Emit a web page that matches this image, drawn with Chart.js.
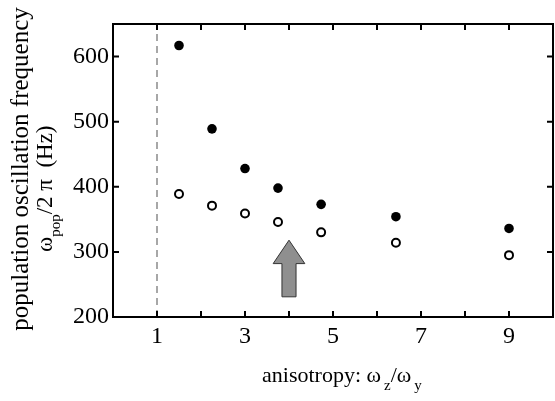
<!DOCTYPE html>
<html>
<head>
<meta charset="utf-8">
<script src="https://cdn.jsdelivr.net/npm/chart.js@4.4.1/dist/chart.umd.min.js"></script>
<style>
  body { margin: 0; background: #fff; }
  #c { display: block; }
</style>
</head>
<body>
<canvas id="c" width="555" height="401"></canvas>
<script>
// anisotropy values (x) and frequencies (Hz)
const anisotropy = [1.5, 2.25, 3, 3.75, 4.73, 6.43, 9];
const freqFilled = [617, 489, 428, 398, 373, 354, 336];
const freqOpen   = [389, 371, 359, 346, 330, 314, 295];
const xTicks = [1, 3, 5, 7, 9];
const yTicks = [200, 300, 400, 500, 600];
const arrow = { x: 4, tip: 318, headBase: 282, base: 231 };

const serif = '"Liberation Serif", "DejaVu Serif", serif';

const pts = ys => anisotropy.map((x, i) => ({ x: x, y: ys[i] }));

// draw text with subscripts, left to right from (x, y) baseline
function richText(ctx, parts, x, y, size) {
  parts.forEach(p => {
    ctx.font = (p.sub ? 15 : size) + 'px ' + serif;
    const dy = p.sub ? 8 : 0;
    ctx.fillText(p.t, x + (p.dx || 0), y + dy);
    x += (p.dx || 0) + ctx.measureText(p.t).width;
  });
}

const decor = {
  id: 'decor',
  afterDraw(chart) {
    const ctx = chart.ctx;
    const a = chart.chartArea;
    const xs = chart.scales.x, ys = chart.scales.y;
    ctx.save();
    ctx.strokeStyle = '#000';
    ctx.lineWidth = 2;
    ctx.strokeRect(a.left, a.top, a.right - a.left, a.bottom - a.top);

    // inward ticks on all four sides
    ctx.beginPath();
    xs.ticks.forEach(t => {
      const px = xs.getPixelForValue(t.value);
      ctx.moveTo(px, a.bottom); ctx.lineTo(px, a.bottom - 6);
      ctx.moveTo(px, a.top); ctx.lineTo(px, a.top + 6);
    });
    ys.ticks.forEach(t => {
      const py = ys.getPixelForValue(t.value);
      ctx.moveTo(a.left, py); ctx.lineTo(a.left + 6, py);
      ctx.moveTo(a.right, py); ctx.lineTo(a.right - 6, py);
    });
    ctx.stroke();

    // grey arrow
    const cx = xs.getPixelForValue(arrow.x);
    const hw = xs.getPixelForValue(arrow.x + 0.36) - cx;
    const sw = xs.getPixelForValue(arrow.x + 0.16) - cx;
    const yTip = ys.getPixelForValue(arrow.tip);
    const yHead = ys.getPixelForValue(arrow.headBase);
    const yBase = ys.getPixelForValue(arrow.base);
    ctx.beginPath();
    ctx.moveTo(cx, yTip);
    ctx.lineTo(cx + hw, yHead);
    ctx.lineTo(cx + sw, yHead);
    ctx.lineTo(cx + sw, yBase);
    ctx.lineTo(cx - sw, yBase);
    ctx.lineTo(cx - sw, yHead);
    ctx.lineTo(cx - hw, yHead);
    ctx.closePath();
    ctx.fillStyle = '#8f8f8f';
    ctx.fill();
    ctx.lineWidth = 1;
    ctx.strokeStyle = '#333';
    ctx.stroke();

    // axis titles
    ctx.fillStyle = '#000';
    ctx.textBaseline = 'alphabetic';
    ctx.textAlign = 'left';
    richText(ctx, [
      { t: 'anisotropy: ω' },
      { t: 'z', sub: true, dx: 3 },
      { t: '/ω' },
      { t: 'y', sub: true, dx: 3 }
    ], 262, 382, 22);

    ctx.rotate(-Math.PI / 2);
    ctx.textAlign = 'center';
    ctx.font = '25px ' + serif;
    ctx.fillText('population oscillation frequency', -169, 28);
    ctx.textAlign = 'left';
    richText(ctx, [
      { t: 'ω' },
      { t: 'pop', sub: true },
      { t: '/2 π  (Hz)' }
    ], -252, 52, 23);
    ctx.restore();
  }
};

new Chart(document.getElementById('c'), {
  type: 'scatter',
  data: {
    datasets: [
      {
        data: [{ x: 1, y: 200 }, { x: 1, y: 650 }],
        showLine: true,
        borderColor: '#8a8a8a',
        borderWidth: 1.5,
        borderDash: [7, 5],
        pointRadius: 0
      },
      {
        data: pts(freqFilled),
        backgroundColor: '#000',
        borderColor: '#000',
        pointRadius: 4.8,
        borderWidth: 0
      },
      {
        data: pts(freqOpen),
        backgroundColor: '#fff',
        borderColor: '#000',
        pointRadius: 4,
        borderWidth: 2
      }
    ]
  },
  options: {
    responsive: false,
    animation: false,
    layout: { autoPadding: false, padding: { top: 24, right: 2, left: 0, bottom: 0 } },
    plugins: { legend: { display: false }, tooltip: { enabled: false } },
    scales: {
      x: {
        type: 'linear',
        min: 0,
        max: 10,
        grid: { display: false, drawTicks: false },
        border: { display: false },
        afterFit: s => { s.height = 84; s.paddingLeft = 0; s.paddingRight = 0; },
        ticks: {
          stepSize: 1,
          autoSkip: false,
          maxRotation: 0,
          padding: 5,
          color: '#000',
          font: { family: serif, size: 24 },
          callback: v => xTicks.includes(v) ? String(v) : ''
        }
      },
      y: {
        min: 200,
        max: 650,
        grid: { display: false, drawTicks: false },
        border: { display: false },
        afterFit: s => { s.width = 113; s.paddingTop = 0; s.paddingBottom = 0; },
        ticks: {
          stepSize: 100,
          includeBounds: false,
          padding: 4,
          color: '#000',
          font: { family: serif, size: 24 },
          callback: v => yTicks.includes(v) ? String(v) : ''
        }
      }
    }
  },
  plugins: [decor]
});
</script>
</body>
</html>
